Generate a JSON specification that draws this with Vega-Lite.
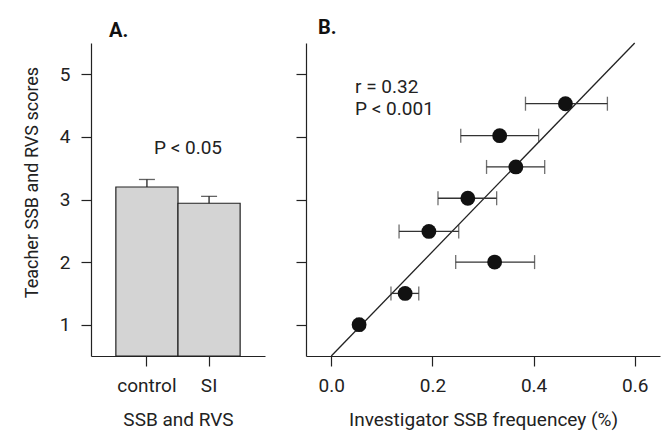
{
  "$schema": "https://vega.github.io/schema/vega-lite/v6.json",
  "background": "white",
  "padding": {"left": 23, "top": 18, "right": 5, "bottom": 5},
  "config": {
    "view": {"stroke": null},
    "font": "Roboto",
    "axis": {
      "domainColor": "#222", "tickColor": "#222", "domainWidth": 1.2, "tickWidth": 1.2, "tickSize": 10,
      "labelFontSize": 19, "titleFontSize": 19, "labelColor": "#222", "titleColor": "#222",
      "titleFontWeight": "normal", "grid": false, "labelFont": "Roboto", "titleFont": "Roboto"
    },
    "title": {"fontSize": 20, "fontWeight": "bold", "anchor": "start", "frame": "group", "color": "#111", "offset": 2, "font": "Roboto"}
  },
  "spacing": 30,
  "hconcat": [
    {
      "width": 174,
      "height": 313,
      "title": {"text": "A.", "dx": 18},
      "data": {"values": [
        {"group": "control", "score": 3.2, "upper": 3.32},
        {"group": "SI", "score": 2.94, "upper": 3.05}
      ]},
      "encoding": {
        "x": {"field": "group", "type": "nominal", "sort": ["control", "SI"],
          "scale": {"paddingInner": 0, "paddingOuter": 0.4},
          "axis": {"title": "SSB and RVS", "labelAngle": 0, "labelPadding": 10, "titlePadding": 15}}
      },
      "layer": [
        {
          "mark": {"type": "bar", "fill": "#d4d4d4", "stroke": "#222", "strokeWidth": 1.2},
          "encoding": {
            "y": {"field": "score", "type": "quantitative", "scale": {"domain": [0.5, 5.5], "nice": false},
              "axis": {"title": "Teacher SSB and RVS scores", "titleFontSize": 18, "titleY": 139, "values": [1, 2, 3, 4, 5], "format": "d", "labelPadding": 11, "titlePadding": 18}},
            "y2": {"datum": 0.5}
          }
        },
        {
          "mark": {"type": "rule", "color": "#222", "strokeWidth": 1.3},
          "encoding": {
            "y": {"field": "score", "type": "quantitative", "scale": {"domain": [0.5, 5.5], "nice": false}},
            "y2": {"field": "upper"}
          }
        },
        {
          "mark": {"type": "tick", "color": "#222", "thickness": 1.3, "size": 16},
          "encoding": {
            "y": {"field": "upper", "type": "quantitative", "scale": {"domain": [0.5, 5.5], "nice": false}}
          }
        },
        {
          "data": {"values": [{"group": "control", "y": 3.83, "t": "P < 0.05"}]},
          "mark": {"type": "text", "fontSize": 19, "align": "center", "baseline": "middle", "color": "#222", "dx": 10},
          "encoding": {
            "x": {"field": "group", "type": "nominal", "bandPosition": 1},
            "y": {"field": "y", "type": "quantitative", "scale": {"domain": [0.5, 5.5], "nice": false}},
            "text": {"field": "t"}
          }
        }
      ]
    },
    {
      "width": 354,
      "height": 313,
      "title": {"text": "B.", "dx": 12},
      "layer": [
        {
          "data": {"values": [{"x": 0.0, "y": 0.5}, {"x": 0.6, "y": 5.5}]},
          "mark": {"type": "line", "color": "#222", "strokeWidth": 1.3},
          "encoding": {
            "x": {"field": "x", "type": "quantitative", "scale": {"domain": [-0.05, 0.65], "nice": false, "zero": false},
              "axis": {"title": "Investigator SSB frequencey (%)", "values": [0, 0.2, 0.4, 0.6], "format": ".1f", "labelPadding": 10, "titlePadding": 15}},
            "y": {"field": "y", "type": "quantitative", "scale": {"domain": [0.5, 5.5], "nice": false, "zero": false},
              "axis": {"title": null, "labels": false, "values": [1, 2, 3, 4, 5]}}
          }
        },
        {
          "data": {"name": "pts", "values": [
            {"x": 0.463, "y": 4.53, "lo": 0.384, "hi": 0.546},
            {"x": 0.333, "y": 4.02, "lo": 0.256, "hi": 0.41},
            {"x": 0.365, "y": 3.52, "lo": 0.307, "hi": 0.422},
            {"x": 0.27, "y": 3.02, "lo": 0.211, "hi": 0.327},
            {"x": 0.193, "y": 2.49, "lo": 0.134, "hi": 0.252},
            {"x": 0.323, "y": 2.0, "lo": 0.246, "hi": 0.402},
            {"x": 0.146, "y": 1.5, "lo": 0.118, "hi": 0.173},
            {"x": 0.055, "y": 1.0, "lo": 0.05, "hi": 0.06}
          ]},
          "layer": [
            {
              "mark": {"type": "errorbar", "color": "#333", "thickness": 1.3, "ticks": true, "size": 14},
              "encoding": {
                "x": {"field": "lo", "type": "quantitative", "scale": {"domain": [-0.05, 0.65], "nice": false, "zero": false},
                  "axis": {"title": "Investigator SSB frequencey (%)", "values": [0, 0.2, 0.4, 0.6], "format": ".1f", "labelPadding": 10, "titlePadding": 15}},
                "x2": {"field": "hi"},
                "y": {"field": "y", "type": "quantitative", "scale": {"domain": [0.5, 5.5], "nice": false, "zero": false},
                  "axis": {"title": null, "labels": false, "values": [1, 2, 3, 4, 5]}}
              }
            },
            {
              "mark": {"type": "point", "filled": true, "shape": "circle", "size": 220, "color": "#111", "opacity": 1},
              "encoding": {
                "x": {"field": "x", "type": "quantitative", "scale": {"domain": [-0.05, 0.65], "nice": false, "zero": false},
                  "axis": {"title": "Investigator SSB frequencey (%)", "values": [0, 0.2, 0.4, 0.6], "format": ".1f", "labelPadding": 10, "titlePadding": 15}},
                "y": {"field": "y", "type": "quantitative", "scale": {"domain": [0.5, 5.5], "nice": false, "zero": false},
                  "axis": {"title": null, "labels": false, "values": [1, 2, 3, 4, 5]}}
              }
            }
          ]
        },
        {
          "data": {"values": [
            {"x": 0.047, "y": 4.8, "t": "r = 0.32"},
            {"x": 0.047, "y": 4.44, "t": "P < 0.001"}
          ]},
          "mark": {"type": "text", "fontSize": 19, "align": "left", "baseline": "middle", "color": "#222"},
          "encoding": {
            "x": {"field": "x", "type": "quantitative", "scale": {"domain": [-0.05, 0.65], "nice": false, "zero": false}},
            "y": {"field": "y", "type": "quantitative", "scale": {"domain": [0.5, 5.5], "nice": false, "zero": false}},
            "text": {"field": "t"}
          }
        }
      ]
    }
  ]
}
